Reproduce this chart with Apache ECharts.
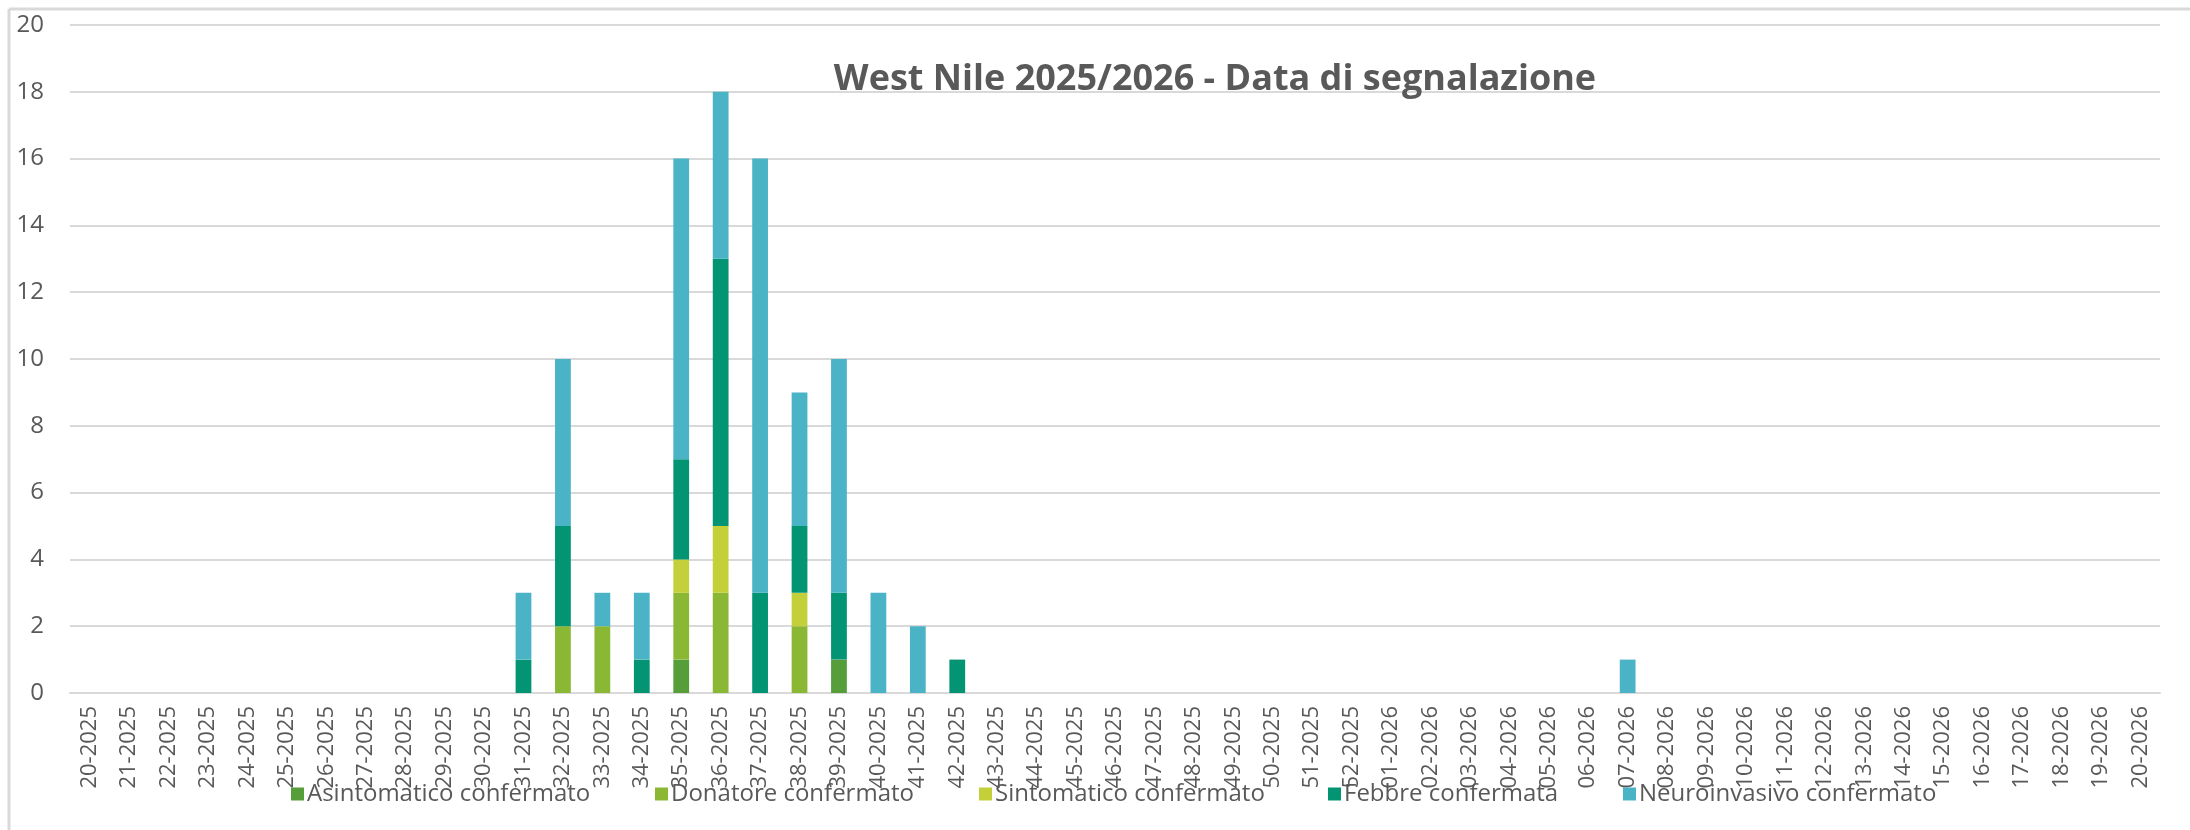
<!DOCTYPE html>
<html>
<head>
<meta charset="utf-8">
<script src="https://cdn.jsdelivr.net/npm/echarts@6/dist/echarts.min.js"></script>
<style>
html,body{margin:0;padding:0;background:#fff;}
#chart{width:2190px;height:830px;}
</style>
</head>
<body>
<div id="chart"></div>
<script>
var weeks = [
  '20-2025','21-2025','22-2025','23-2025','24-2025','25-2025','26-2025','27-2025','28-2025','29-2025',
  '30-2025','31-2025','32-2025','33-2025','34-2025','35-2025','36-2025','37-2025','38-2025','39-2025',
  '40-2025','41-2025','42-2025','43-2025','44-2025','45-2025','46-2025','47-2025','48-2025','49-2025',
  '50-2025','51-2025','52-2025','01-2026','02-2026','03-2026','04-2026','05-2026','06-2026','07-2026',
  '08-2026','09-2026','10-2026','11-2026','12-2026','13-2026','14-2026','15-2026','16-2026','17-2026',
  '18-2026','19-2026','20-2026'
];
var seriesNames = ['Asintomatico confermato','Donatore confermato','Sintomatico confermato','Febbre confermata','Neuroinvasivo confermato'];
var seriesColors = ['#559E3A','#8BB834','#C3D03A','#039474','#4AB4C6'];
//                20 21 22 23 24 25 26 27 28 29 30 31 32 33 34 35 36 37 38 39 40 41 42 43 44 45 46 47 48 49 50 51 52 01 02 03 04 05 06 07 08 09 10 11 12 13 14 15 16 17 18 19 20
var asintomatico = [0,0,0,0,0,0,0,0,0,0,0,0,0,0,0,1,0,0,0,1,0,0,0,0,0,0,0,0,0,0,0,0,0,0,0,0,0,0,0,0,0,0,0,0,0,0,0,0,0,0,0,0,0];
var donatore     = [0,0,0,0,0,0,0,0,0,0,0,0,2,2,0,2,3,0,2,0,0,0,0,0,0,0,0,0,0,0,0,0,0,0,0,0,0,0,0,0,0,0,0,0,0,0,0,0,0,0,0,0,0];
var sintomatico  = [0,0,0,0,0,0,0,0,0,0,0,0,0,0,0,1,2,0,1,0,0,0,0,0,0,0,0,0,0,0,0,0,0,0,0,0,0,0,0,0,0,0,0,0,0,0,0,0,0,0,0,0,0];
var febbre       = [0,0,0,0,0,0,0,0,0,0,0,1,3,0,1,3,8,3,2,2,0,0,1,0,0,0,0,0,0,0,0,0,0,0,0,0,0,0,0,0,0,0,0,0,0,0,0,0,0,0,0,0,0];
var neuro        = [0,0,0,0,0,0,0,0,0,0,0,2,5,1,2,9,5,13,4,7,3,2,0,0,0,0,0,0,0,0,0,0,0,0,0,0,0,0,0,1,0,0,0,0,0,0,0,0,0,0,0,0,0];
var yTicks = {min: 0, max: 20, interval: 2};
var titleText = 'West Nile 2025/2026 - Data di segnalazione';

var values = [asintomatico, donatore, sintomatico, febbre, neuro];
var legendLefts = [291, 655, 979, 1328, 1623];

var chart = echarts.init(document.getElementById('chart'), null, {renderer: 'canvas'});
var series = values.map(function (v, i) {
  return {
    name: seriesNames[i],
    type: 'bar',
    stack: 'total',
    barWidth: '40%',
    itemStyle: {color: seriesColors[i]},
    emphasis: {disabled: true},
    data: v
  };
});
var legends = seriesNames.map(function (n, i) {
  return {
    data: [n],
    left: legendLefts[i],
    top: 782,
    icon: 'rect',
    itemWidth: 13,
    itemHeight: 13,
    itemGap: 7,
    padding: 0,
    textStyle: {fontFamily: 'Open Sans', fontSize: 24, color: '#595959', padding: [0, 0, 0, -2]}
  };
});
chart.setOption({
  backgroundColor: '#ffffff',
  animation: false,
  title: {
    text: titleText,
    left: 1210,
    top: 57,
    textAlign: 'center',
    textStyle: {fontFamily: 'Open Sans', fontWeight: 'bold', fontSize: 36, color: '#595959'}
  },
  legend: legends,
  grid: {left: 70, right: 30, top: 25, bottom: 137, containLabel: false},
  xAxis: {
    type: 'category',
    data: weeks,
    axisLine: {show: true, lineStyle: {color: '#d9d9d9', width: 2}},
    axisTick: {show: false},
    axisLabel: {rotate: 90, interval: 0, margin: 13, fontFamily: 'Open Sans', fontSize: 22, color: '#595959'}
  },
  yAxis: {
    type: 'value',
    min: yTicks.min,
    max: yTicks.max,
    interval: yTicks.interval,
    axisLine: {show: false},
    axisTick: {show: false},
    splitLine: {lineStyle: {color: '#d9d9d9', width: 2}},
    axisLabel: {margin: 26, fontFamily: 'Open Sans', fontSize: 24, color: '#595959'}
  },
  graphic: [
    {type: 'line', shape: {x1: 9, y1: 9, x2: 9, y2: 830}, style: {stroke: '#d9d9d9', lineWidth: 3}, silent: true},
    {type: 'line', shape: {x1: 9, y1: 9, x2: 2190, y2: 9}, style: {stroke: '#d9d9d9', lineWidth: 3}, silent: true}
  ],
  series: series
});
</script>
</body>
</html>
